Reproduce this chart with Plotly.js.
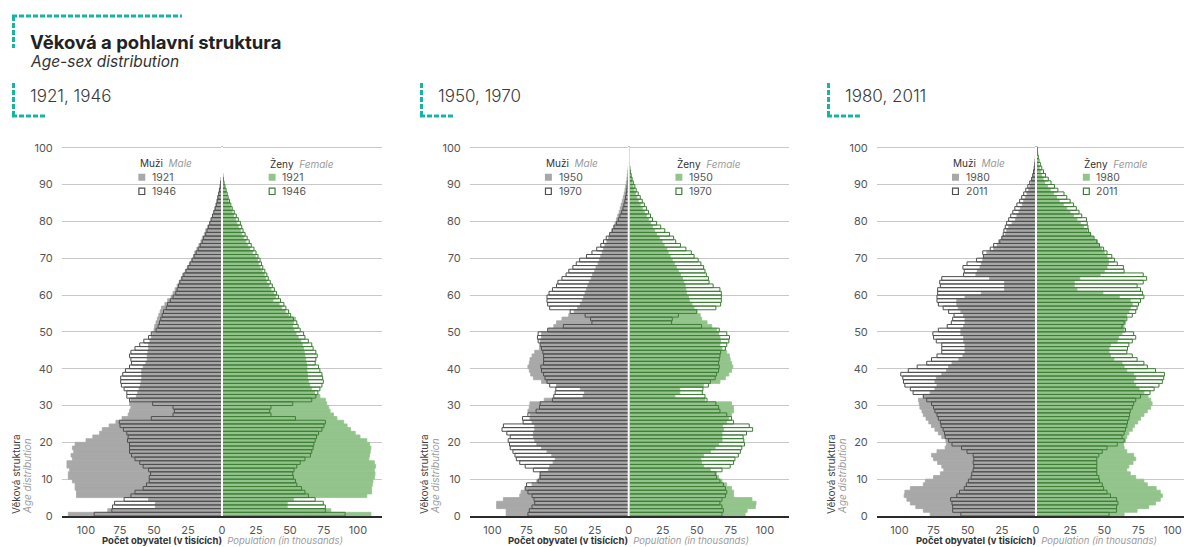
<!DOCTYPE html>
<html><head><meta charset="utf-8">
<script src="https://cdn.plot.ly/plotly-3.0.1.min.js"></script>
<style>html,body{margin:0;padding:0;background:#fff}#chart{width:1184px;height:547px}</style>
</head><body><div id="chart"></div>
<script>
const ages = [0,1,2,3,4,5,6,7,8,9,10,11,12,13,14,15,16,17,18,19,20,21,22,23,24,25,26,27,28,29,30,31,32,33,34,35,36,37,38,39,40,41,42,43,44,45,46,47,48,49,50,51,52,53,54,55,56,57,58,59,60,61,62,63,64,65,66,67,68,69,70,71,72,73,74,75,76,77,78,79,80,81,82,83,84,85,86,87,88,89,90,91,92,93,94,95,96,97,98,99,100];

// Population in thousands, by single year of age (0..100)
const male1921 = [113,84,49,49,54,107,107,108,108,110,
113,113,112,114,114,110,111,109,110,108,
100,95,90,88,83,78,73.5,69,68,67,
68,67,63,62,61,60,59.5,59,59,59,
58,56,55,55,54.5,54,54,53,52,51,
50,49.5,48.5,47.5,46.5,45.5,44.5,42,40,37.5,
36,34.5,33,31.5,30,29,27,25.5,24,22.5,
21,20,18.5,17,15.5,14.5,13,12,10.5,9,
8,7,6,5.2,4.5,3.8,3.2,2.6,2,1.4,
1,0.6,0.3,0,0,0,0,0,0,0,0];
const male1946 = [94,81,80.5,79,72,67,64,58,55.5,53.5,
53.5,52.5,54,58,60.5,64,66.5,68,68,68,
69.5,69,70,72.5,75,75.5,52,36,35,36,
51,68,70,70,72,74,74.5,74.5,73,71,
68,66.5,67,68,67,64,60.5,57.5,54,52,
48.5,47,46,45,44,43,41,40,38,36,
34,33,32,31,29.5,28,26.5,25,23.5,22,
20.5,19,17.5,16,14.5,13.5,12,11,10,9,
8,7,6,5,4.2,3.5,3,2.4,1.8,1.3,
0.9,0.5,0.3,0,0,0,0,0,0,0,0];
const female1921 = [109.5,80,48,48,52.5,106.5,110,110,110.5,111,
112,112.5,112,113,112,108,108.5,109,109.5,108.5,
106.5,101.5,98,94.5,92,89.5,84.5,82,79.5,78.5,
77,76,72,68,66,64.5,63.5,63,63,62.5,
62.5,62,61.5,61,60.5,60,59,58,56,54.5,
53,52,52.5,54,49,46.5,44,42,37.5,39.5,
38,36,34.5,33,32,31,29.5,28,27,26,
24.5,22.5,20.5,19,17.5,16,14.5,13.5,12,11,
10,8.5,7.5,6.5,5.5,4.5,3.8,3,2.3,1.6,
1.1,0.7,0.4,0,0,0,0,0,0,0,0];
const female1946 = [90.5,76,76,74.5,68.5,63.5,61,58.5,55,54,
52.5,52,53,55,57.5,61,65,66,67,67.5,
68.5,69.5,71,73.5,75,76,54,36,35,36,
52,66,69,70.5,72,73.5,74.5,74,73.5,72,
71,68.5,69,70,69,67,66,63.5,61,60,
57.5,56,55,52.5,50.5,49,47,45.5,43,41.5,
40,38.5,37,35.5,34,33,31.5,30,29,28,
26.5,25,23.5,21.5,20,18.5,17,15.5,14.5,13.5,
12,10.5,9,7.5,6.5,5.5,4.5,3.8,3,2.2,
1.5,1,0.6,0,0,0,0,0,0,0,0];

const male1950 = [90,90,97,97,92,80,79,76,71,67.5,
65.5,65,59,58,55.5,54,56.5,60,64,67.5,
69,70,70,69,69,71,72.5,72.5,74,73,
72.5,62,33.5,32.5,35.5,53,64,70,72,73,
74,73,72.5,71,69,65.5,65,65,64,64,
59,55,53,49,44,40,37.5,35.5,34,33,
32,31,30,29,27.5,26.5,25,24,22.5,21.5,
20.5,19.5,18.5,17.5,16,15,13.5,12.5,11,10,
9,8,7,6.2,5.5,4.7,4,3.3,2.7,2.2,
1.7,1.3,1,0.7,0.4,0,0,0,0,0,0];
const male1970 = [74,73,71,69,69.5,71,74,76,75,66.5,
65,65,70,76,80,82.5,83.5,85,87,87.5,
88.5,87,89.5,93,92,77.5,78,74,68,65.5,
65,56,55,54,53.5,58,60,61.5,62.5,64,
64.5,62.5,62.5,62.5,63,64,65,66.5,67,66.5,
59.5,48,27,28,32,43,58,59.5,60,60,
58.5,56,53,52,49,46,44,41,38.5,36,
31,27,23.5,20.5,18.5,16.5,14,12,10.8,9,
7.6,6.4,5.2,4.2,3.5,2.8,2.3,1.8,1.4,1.1,
0.8,0.6,0.4,0.3,0,0,0,0,0,0,0];
const female1950 = [85.5,87,93,93.5,90.5,77,77,75.5,72,68.5,
66,64.5,60,55,53.5,53,55,60,63.5,66,
68.5,68.5,68.5,69.5,69,72,73.5,75.5,77,77,
75.5,56,34,37.5,37.5,55,67,71,73.5,75.5,
76.5,75.5,74.5,74,72,68.5,67,67.5,67,66,
64.5,61,57.5,53.5,52.5,50,48,46.5,44.5,44,
42.5,42,41.5,40.5,39.5,38,36.5,35,33.5,32,
30.5,29,28,26,24.5,22.5,20.5,19,17.5,16,
14.5,13,11.5,10,8.5,7,6,5,4,3.2,
2.5,2,1.5,1.1,0.8,0.5,0,0,0,0,0];
const female1970 = [68.5,69.5,68.5,67,68.5,71,72,71,69.5,67,
64.5,63.5,68.5,74.5,77,78,80.5,82,83,85,
84.5,84,86.5,91,88.5,77,75.5,72,67,66,
64,57.5,56,54,54.5,58.5,60,63.5,64.5,66,
66.5,66,66.5,67,67.5,71,72,73.5,74,72,
66.5,53.5,31.5,32,36.5,50,64,67.5,68,68,
68,67,62,59,58.5,57,56,55,53,51,
48,46,42,38,34.5,33,30,26.5,23.5,20.5,
17.5,16,14.5,13,11.5,10,8.5,7,5.5,4.5,
3.4,2.5,1.8,1.2,0.8,0.4,0,0,0,0,0];

const male1980 = [77.5,82.5,88,92,94.5,96.5,96,92,82.5,81,
75,70,67.5,69,72,75,76.5,72.5,66.5,65.5,
66,69,71.5,74,76.5,78.5,80.5,82.5,83.5,85,
85.5,86,82.5,77.5,74,72.5,74,73,69,65.5,
64,61.5,56.5,53.5,52,52,52,53,53,55,
55,53,52,52,53,55,57,58,58,52,
40,23,23,23,34,44,43,41,40,39,
38,36,31,28.5,27.5,25,22.5,21.5,20,17.5,
15,14,12.5,11.5,10,9,7.8,6.6,5.4,4.5,
3.7,2.9,2.2,1.6,1.2,0.8,0.5,0.3,0.2,0.1,0.1];
const male2011 = [55,61,61,61.5,62.5,58,56,52.5,51,49.5,
47.5,47,46,45.5,46,45.5,46,50.5,54.5,61.5,
64,66.5,67,68,69.5,70,71.5,72.5,74,75,
76.5,80,82.5,90,92,96,97,97.5,99,93.5,
87,80,76.5,72.5,69,69,69,73,75,75.5,
71.5,65,62,61,60,64,68,71.5,72.5,72.5,
72,72,70,70.5,69,53,52.5,53.5,50.5,43.5,
38.5,39,33.5,31,26.5,25,24,23.5,22.5,21.5,
20,18.5,17,15.5,14,12,10.5,9,7.5,6,
4.6,3.2,2.4,1.8,1.3,0.9,0.6,0.4,0.3,0.2,0.2];
const female1980 = [64.5,74,82.5,87.5,91,92.5,91,88,81.5,79,
73,69,66.5,68,71,73,71.5,66.5,64.5,64,
65.5,66.5,68,70.5,72,74.5,76.5,79,81.5,84,
85,84,82,79,75.5,73,71.5,73,71.5,66.5,
64.5,63,57,54.5,53.5,53.5,54.5,59.5,60.5,63,
64.5,64.5,65.5,65.5,66.5,68,69,70.5,69,61,
49,30,28,28,32,47,50,52,53,53,
52,50,48,46.5,45,42,40,37.5,35,32.5,
30,27.5,25,22.5,20,17,15,13,10.5,8.5,
6.5,5.2,4.2,3.2,2.4,1.7,1.2,0.8,0.5,0.3,0.2];
const female2011 = [53.5,59,59,60,59,54.5,52,49.5,48.5,46.5,
46,44.5,44.5,44.5,44.5,44.5,46,48.5,52,59.5,
64.5,63,64.5,65.5,66.5,67,68,68.5,69,70.5,
71.5,73,76.5,83.5,86.5,90,92.5,93.5,94,87.5,
81.5,79,74,70.5,66.5,67,68,70.5,73,71.5,
65.5,63,64.5,66.5,70.5,73,74,75,76.5,79,
78,76.5,74,78.5,81,78.5,64.5,64,59.5,57.5,
55.5,52,49.5,46.5,44.5,42.5,40,38.5,38,37.5,
37,33.5,31.5,29.5,27.5,25,22.5,20.5,16,13.5,
11,9,7,5.5,4.2,3.2,2.2,1.7,1.2,1,0.7];

const panelYears = [['1921','1946'],['1950','1970'],['1980','2011']];
const panelLabels = ['1921, 1946','1950, 1970','1980, 2011'];
const xTickVals = [-100,-75,-50,-25,0,25,50,75,100];
const xTickText = ['100','75','50','25','0','25','50','75','100'];
const yTickVals = [0,10,20,30,40,50,60,70,80,90,100];

const series = [
  {m1:male1921, f1:female1921, m2:male1946, f2:female1946},
  {m1:male1950, f1:female1950, m2:male1970, f2:female1970},
  {m1:male1980, f1:female1980, m2:male2011, f2:female2011}
];

// ---------- layout geometry (pixels) ----------
const W = 1184, H = 547;
const geo = [
  {x0:62,  x1:382,  zero:222,   k:1.36},
  {x0:470, x1:789,  zero:628.7, k:1.362},
  {x0:877, x1:1184, zero:1036,  k:1.366}
];
const Y0PX = 516, YK = 3.683, YMAX = 100.4;
const FONT = 'Inter, "Noto Sans", Roboto, sans-serif';
const GRAY = '#a8a8a8', GREEN = '#93c48c', MLINE = '#4f4f4f', FLINE = '#3e7e36';
const TEAL = '#17b3a5';
const px = x => x / W, py = y => 1 - y / H;

const traces = [];
const layout = {
  width: W, height: H,
  margin: {l:0, r:0, t:0, b:0},
  paper_bgcolor: '#fff', plot_bgcolor: 'rgba(0,0,0,0)',
  barmode: 'overlay', showlegend: false, hovermode: false,
  font: {family: FONT, color: '#333'},
  shapes: [], annotations: []
};

const yBar = ages.map(a => a + 0.5);
const yDom = [py(Y0PX), py(Y0PX - YMAX * YK)];

geo.forEach((g, i) => {
  const n = i === 0 ? '' : String(i + 1);
  const xa = 'x' + n, ya = 'y' + n;
  const s = series[i];
  const neg = arr => arr.map(v => -v);
  traces.push({type:'bar', orientation:'h', y:yBar, x:neg(s.m1), width:1, xaxis:xa, yaxis:ya,
    marker:{color:GRAY, line:{width:0.8, color:GRAY}}});
  traces.push({type:'bar', orientation:'h', y:yBar, x:s.f1, width:1, xaxis:xa, yaxis:ya,
    marker:{color:GREEN, line:{width:0.8, color:GREEN}}});
  traces.push({type:'bar', orientation:'h', y:yBar, x:neg(s.m2), width:1, xaxis:xa, yaxis:ya,
    marker:{color:'rgba(0,0,0,0)', line:{width:1, color:MLINE}}});
  traces.push({type:'bar', orientation:'h', y:yBar, x:s.f2, width:1, xaxis:xa, yaxis:ya,
    marker:{color:'rgba(0,0,0,0)', line:{width:1, color:FLINE}}});

  layout['xaxis' + n] = {
    domain:[px(g.x0), px(g.x1)],
    range:[(g.x0 - g.zero) / g.k, (g.x1 - g.zero) / g.k],
    anchor: ya, tickvals:xTickVals, ticktext:xTickText,
    showgrid:false, zeroline:false, showline:true, linecolor:'#2b2b2b', linewidth:1.5,
    ticks:'outside', ticklen:3, tickcolor:'rgba(0,0,0,0)',
    tickfont:{family:FONT, size:11, color:'#555'}, fixedrange:true
  };
  layout['yaxis' + n] = {
    domain: yDom, range:[0, YMAX], anchor: xa, tickvals:yTickVals,
    showgrid:true, gridcolor:'#c8c8c8', gridwidth:1, zeroline:false, showline:false,
    ticks:'outside', ticklen:6, tickcolor:'rgba(0,0,0,0)',
    tickfont:{family:FONT, size:11, color:'#555'}, fixedrange:true
  };

  // white centre line
  layout.shapes.push({type:'line', xref:xa, yref:ya, x0:0, x1:0, y0:0, y1:YMAX,
    line:{color:'#fff', width:2}, layer:'above'});

  // in-plot legend
  const yrs = panelYears[i];
  const legendCols = [
    {x:-61.5, title:'Muži', sub:'Male', fill:GRAY, line:MLINE},
    {x:34.3, title:'Ženy', sub:'Female', fill:GREEN, line:FLINE}
  ];
  legendCols.forEach(c => {
    layout.annotations.push({xref:xa, yref:ya, x:c.x - 0.6, y:95.8, xanchor:'left', yanchor:'middle',
      showarrow:false, text:c.title + '  <i><span style="color:#9a9a9a">' + c.sub + '</span></i>',
      font:{family:FONT, size:10, color:'#333'}});
    layout.shapes.push({type:'rect', xref:xa, yref:ya, x0:c.x, x1:c.x + 5.1, y0:91.0, y1:92.9,
      fillcolor:c.fill, line:{width:0}, layer:'above'});
    layout.shapes.push({type:'rect', xref:xa, yref:ya, x0:c.x + 0.4, x1:c.x + 4.7, y0:87.3, y1:89.0,
      fillcolor:'#fff', line:{width:1.2, color:c.line}, layer:'above'});
    layout.annotations.push({xref:xa, yref:ya, x:c.x + 8.5, y:91.95, xanchor:'left', yanchor:'middle',
      showarrow:false, text:yrs[0], font:{family:FONT, size:10.5, color:'#555'}});
    layout.annotations.push({xref:xa, yref:ya, x:c.x + 8.5, y:88.15, xanchor:'left', yanchor:'middle',
      showarrow:false, text:yrs[1], font:{family:FONT, size:10.5, color:'#555'}});
  });

  // y-axis title (rotated, two lines)
  const ytx = g.x0 - 46;
  layout.annotations.push({xref:'paper', yref:'paper', x:px(ytx), y:py(516), xanchor:'center', yanchor:'bottom',
    textangle:-90, showarrow:false, text:'Věková struktura', font:{family:FONT, size:10, color:'#444'}});
  layout.annotations.push({xref:'paper', yref:'paper', x:px(ytx + 11), y:py(516), xanchor:'center', yanchor:'bottom',
    textangle:-90, showarrow:false, text:'<i>Age distribution</i>', font:{family:FONT, size:10, color:'#9a9a9a'}});

  // x-axis title
  layout.annotations.push({xref:'paper', yref:'paper', x:px(g.zero), y:py(540.5), xanchor:'center', yanchor:'middle',
    showarrow:false,
    text:'<b>Počet obyvatel (v tisících)</b>  <i><span style="color:#9a9a9a">Population (in thousands)</span></i>',
    font:{family:FONT, size:9.5, color:'#333'}});

  // section label with dashed corner
  const lx = [12, 420, 827][i];
  layout.shapes.push({type:'line', xref:'paper', yref:'paper', x0:px(lx+1.5), x1:px(lx+1.5), y0:py(83), y1:py(116),
    line:{color:TEAL, width:3, dash:'5px,2px'}});
  layout.shapes.push({type:'line', xref:'paper', yref:'paper', x0:px(lx), x1:px(lx+33), y0:py(116), y1:py(116),
    line:{color:TEAL, width:3, dash:'5px,2px'}});
  layout.annotations.push({xref:'paper', yref:'paper', x:px(lx + 16), y:py(96), xanchor:'left', yanchor:'middle',
    showarrow:false, text:panelLabels[i], font:{family:FONT, size:17, color:'#3a3a3a', weight:300}});
});

// main title block
layout.shapes.push({type:'line', xref:'paper', yref:'paper', x0:px(12), x1:px(182), y0:py(16), y1:py(16),
  line:{color:TEAL, width:3, dash:'5px,2px'}});
layout.shapes.push({type:'line', xref:'paper', yref:'paper', x0:px(13.5), x1:px(13.5), y0:py(16), y1:py(48),
  line:{color:TEAL, width:3, dash:'5px,2px'}});
layout.annotations.push({xref:'paper', yref:'paper', x:px(28), y:py(42), xanchor:'left', yanchor:'middle',
  showarrow:false, text:'<b>Věková a pohlavní struktura</b>', font:{family:FONT, size:18.5, color:'#222'}});
layout.annotations.push({xref:'paper', yref:'paper', x:px(28), y:py(62), xanchor:'left', yanchor:'middle',
  showarrow:false, text:'<i>Age-sex distribution</i>', font:{family:FONT, size:15.5, color:'#333'}});

Plotly.newPlot('chart', traces, layout, {staticPlot:true, displayModeBar:false});
</script>
</body></html>
